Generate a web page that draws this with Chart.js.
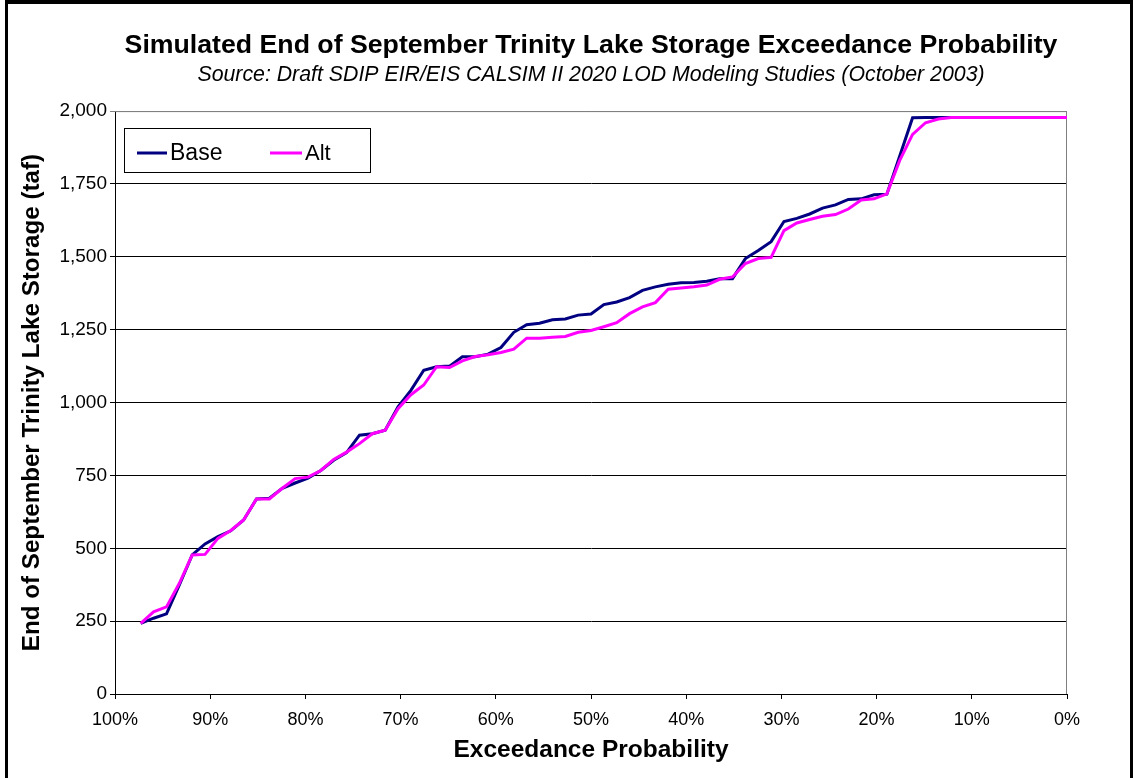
<!DOCTYPE html>
<html>
<head>
<meta charset="utf-8">
<script src="https://cdn.jsdelivr.net/npm/chart.js@4.4.1/dist/chart.umd.min.js"></script>
<style>
  html, body { margin: 0; padding: 0; background: #ffffff; }
  #wrap { position: relative; width: 1134px; height: 778px; overflow: hidden; }
  #frame { position: absolute; left: 5px; top: 0px; width: 1122px; height: 790px;
           border-left: 3px solid #000; border-top: 4px solid #000; border-right: 3px solid #000; box-sizing: content-box; pointer-events: none; }
  canvas { position: absolute; left: 0; top: 0; }
</style>
</head>
<body>
<div id="wrap">
  <canvas id="c" width="1134" height="778"></canvas>
  <div id="frame"></div>
</div>
<script>
// Exceedance probability (%) for each ranked year
const exceedance = [97.30, 95.95, 94.59, 93.24, 91.89, 90.54, 89.19, 87.84, 86.49, 85.14,
  83.78, 82.43, 81.08, 79.73, 78.38, 77.03, 75.68, 74.32, 72.97, 71.62,
  70.27, 68.92, 67.57, 66.22, 64.86, 63.51, 62.16, 60.81, 59.46, 58.11,
  56.76, 55.41, 54.05, 52.70, 51.35, 50.00, 48.65, 47.30, 45.95, 44.59,
  43.24, 41.89, 40.54, 39.19, 37.84, 36.49, 35.14, 33.78, 32.43, 31.08,
  29.73, 28.38, 27.03, 25.68, 24.32, 22.97, 21.62, 20.27, 18.92, 17.57,
  16.22, 14.86, 13.51, 12.16, 10.81, 9.46, 8.11, 6.76, 5.41, 4.05,
  2.70, 1.35, 0.00];

// End of September Trinity Lake storage (taf)
const baseStorage = [242, 260, 275, 374, 477, 515, 540, 560, 597, 669,
  672, 706, 724, 741, 767, 802, 828, 888, 893, 905,
  985, 1042, 1111, 1123, 1125, 1157, 1157, 1166, 1189, 1241,
  1267, 1272, 1284, 1287, 1300, 1304, 1336, 1345, 1360, 1385,
  1397, 1406, 1411, 1412, 1416, 1425, 1425, 1494, 1522, 1552,
  1621, 1632, 1647, 1667, 1678, 1697, 1699, 1713, 1715, 1846,
  1977, 1978, 1978, 1978, 1978, 1978, 1978, 1978, 1978, 1978,
  1978, 1978, 1978];

const altStorage = [242, 282, 299, 380, 477, 479, 534, 561, 597, 669,
  669, 706, 739, 744, 767, 805, 830, 859, 893, 905,
  979, 1027, 1060, 1123, 1120, 1143, 1158, 1164, 1172, 1183,
  1221, 1221, 1224, 1227, 1241, 1247, 1260, 1274, 1305, 1328,
  1343, 1389, 1393, 1397, 1403, 1423, 1431, 1477, 1494, 1498,
  1590, 1616, 1628, 1639, 1645, 1664, 1695, 1699, 1716, 1831,
  1920, 1960, 1973, 1978, 1978, 1978, 1978, 1978, 1978, 1978,
  1978, 1978, 1978];

const seriesNames = ['Base', 'Alt'];
const seriesColors = ['#000080', '#FF00FF'];
const titleText = 'Simulated End of September Trinity Lake Storage Exceedance Probability';
const subtitleText = 'Source: Draft SDIP EIR/EIS CALSIM II 2020 LOD Modeling Studies (October 2003)';
const xTitle = 'Exceedance Probability';
const yTitle = 'End of September Trinity Lake Storage (taf)';

const FONT = "'Liberation Sans', Arial, sans-serif";

function toPoints(xs, ys) { return xs.map((x, i) => ({ x: x, y: ys[i] })); }

const frameAndLegend = {
  id: 'frameAndLegend',
  beforeDatasetsDraw(chart) {
    const { ctx, chartArea: a } = chart;
    ctx.save();
    ctx.strokeStyle = '#808080';
    ctx.lineWidth = 1;
    ctx.beginPath();
    ctx.moveTo(a.left, a.top + 0.5);
    ctx.lineTo(a.right - 0.5, a.top + 0.5);
    ctx.lineTo(a.right - 0.5, a.bottom);
    ctx.stroke();
    ctx.restore();
  },
  afterDraw(chart) {
    const { ctx } = chart;
    ctx.save();
    const bx = 124.5, by = 128.5, bw = 246, bh = 44;
    ctx.fillStyle = '#ffffff';
    ctx.fillRect(bx, by, bw, bh);
    ctx.strokeStyle = '#000000';
    ctx.lineWidth = 1;
    ctx.strokeRect(bx, by, bw, bh);
    const items = [{ x0: 137, x1: 167, tx: 170, fs: 23 }, { x0: 270, x1: 302, tx: 305, fs: 22 }];
    chart.data.datasets.forEach((ds, i) => {
      const it = items[i];
      ctx.strokeStyle = ds.borderColor;
      ctx.lineWidth = 3;
      ctx.beginPath();
      ctx.moveTo(it.x0, 153);
      ctx.lineTo(it.x1, 153);
      ctx.stroke();
      ctx.fillStyle = '#000';
      ctx.font = it.fs + 'px ' + FONT;
      ctx.textBaseline = 'middle';
      ctx.textAlign = 'left';
      ctx.fillText(ds.label, it.tx, 154);
    });
    ctx.restore();
  }
};

new Chart(document.getElementById('c'), {
  type: 'line',
  data: {
    datasets: [
      { label: seriesNames[0], data: toPoints(exceedance, baseStorage), borderColor: seriesColors[0],
        backgroundColor: seriesColors[0], borderWidth: 3, pointRadius: 0, tension: 0, order: 1 },
      { label: seriesNames[1], data: toPoints(exceedance, altStorage), borderColor: seriesColors[1],
        backgroundColor: seriesColors[1], borderWidth: 3, pointRadius: 0, tension: 0, order: 0 }
    ]
  },
  options: {
    responsive: false,
    animation: false,
    devicePixelRatio: 1,
    layout: { padding: { left: 0, right: 67, top: 0, bottom: 0 } },
    plugins: {
      legend: { display: false },
      tooltip: { enabled: false },
      title: { display: true, text: titleText, color: '#000', fullSize: false,
        font: { family: FONT, size: 26.7, weight: 'bold' }, padding: { top: 30, bottom: 0 } },
      subtitle: { display: true, text: subtitleText, color: '#000', fullSize: false,
        font: { family: FONT, size: 21.3, style: 'italic' }, padding: { top: 0, bottom: 23.5 } }
    },
    scales: {
      x: {
        type: 'linear', reverse: true, min: 0, max: 100,
        afterFit: (s) => { s.height = 84; },
        ticks: { stepSize: 10, color: '#000', padding: 10, maxRotation: 0,
          font: { family: FONT, size: 18 }, callback: (v) => v + '%' },
        grid: { drawOnChartArea: false, drawTicks: true, tickLength: 5, color: '#000' },
        border: { color: '#000', width: 1 },
        title: { display: true, text: xTitle, color: '#000',
          font: { family: FONT, size: 24.5, weight: 'bold' }, padding: { top: 0, bottom: 13 } }
      },
      y: {
        type: 'linear', min: 0, max: 2000,
        afterFit: (s) => { s.width = 115; },
        ticks: { stepSize: 250, color: '#000', padding: 3,
          font: { family: FONT, size: 19 },
          callback: (v) => v.toLocaleString('en-US') },
        grid: { color: (c) => (c.tick && c.tick.value === 2000 ? '#808080' : '#000'),
          drawTicks: true, tickLength: 5, lineWidth: 1 },
        border: { color: '#000', width: 1 },
        title: { display: true, text: yTitle, color: '#000',
          font: { family: FONT, size: 24.2, weight: 'bold' }, padding: { top: 18, bottom: 0 } }
      }
    }
  },
  plugins: [frameAndLegend]
});
</script>
</body>
</html>
